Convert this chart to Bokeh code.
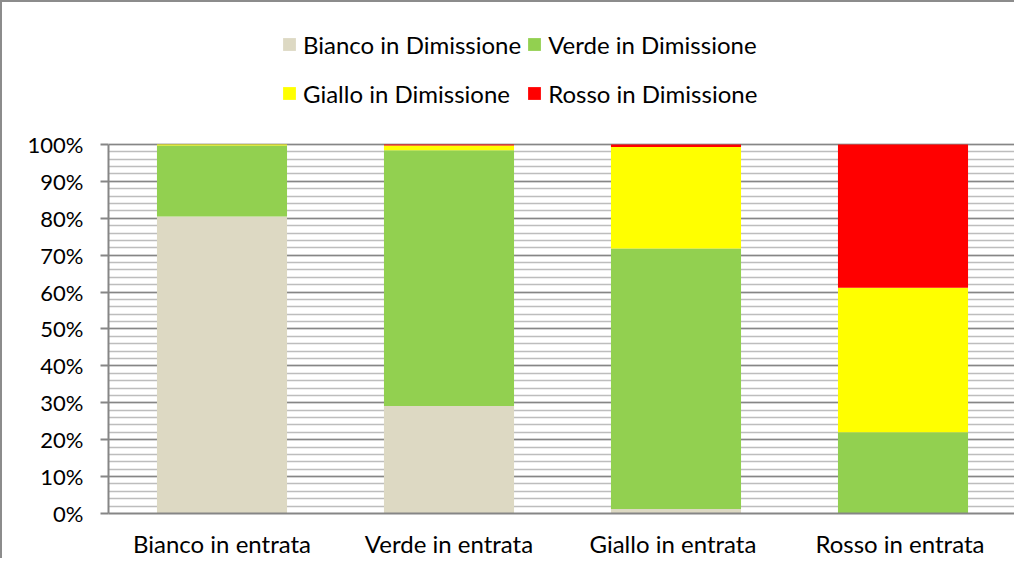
from bokeh.plotting import figure
from bokeh.models import Legend, LegendItem, NumeralTickFormatter, FixedTicker
from bokeh.embed import file_html
from bokeh.resources import INLINE

categories = ["Bianco in entrata", "Verde in entrata", "Giallo  in entrata", "Rosso  in entrata"]
series_names = ["Bianco in Dimissione", "Verde in Dimissione", "Giallo in Dimissione", "Rosso in Dimissione"]
bianco = [0.805, 0.291, 0.012, 0.000]
verde = [0.192, 0.693, 0.706, 0.220]
giallo = [0.003, 0.013, 0.275, 0.392]
rosso = [0.000, 0.003, 0.007, 0.388]
colors = ["#ddd9c3", "#92d050", "#ffff00", "#ff0000"]
y_ticks = [0.0, 0.1, 0.2, 0.3, 0.4, 0.5, 0.6, 0.7, 0.8, 0.9, 1.0]
minor_ticks = [i / 50 for i in range(51)]

FONT = "Lato"

data = dict(cat=categories, bianco=bianco, verde=verde, giallo=giallo, rosso=rosso)
keys = ["bianco", "verde", "giallo", "rosso"]

# extra headroom above 100% holds the legend inside the frame
p = figure(x_range=categories, y_range=(0, 1.363), width=1014, height=558,
           output_backend="svg", toolbar_location=None,
           min_border_left=106, min_border_right=0, min_border_top=8, min_border_bottom=47)
p.styles = {"border-left": "2px solid #8c8c8c", "border-top": "2px solid #8c8c8c"}

renderers = p.vbar_stack(keys, x="cat", width=0.573, color=colors, line_width=0, line_alpha=0, source=data)

p.outline_line_color = None
p.background_fill_color = "white"
p.border_fill_color = "white"

p.xgrid.grid_line_color = None
p.ygrid.ticker = FixedTicker(ticks=y_ticks, minor_ticks=minor_ticks)
p.ygrid.grid_line_color = "#868686"
p.ygrid.grid_line_width = 1.7
p.ygrid.minor_grid_line_color = "#bdbdbd"
p.ygrid.minor_grid_line_width = 1.6
p.ygrid.level = "underlay"

p.yaxis.ticker = FixedTicker(ticks=y_ticks)
p.yaxis.bounds = (0, 1)
p.yaxis.formatter = NumeralTickFormatter(format="0%")
p.yaxis.major_tick_out = 8
p.yaxis.major_tick_in = 0
p.yaxis.minor_tick_out = 0
p.yaxis.minor_tick_in = 0
p.yaxis.major_tick_line_color = "#868686"
p.yaxis.major_tick_line_width = 2
p.yaxis.axis_line_color = "#868686"
p.yaxis.axis_line_width = 2
p.yaxis.major_label_standoff = 17
p.yaxis.major_label_text_font = FONT
p.yaxis.major_label_text_font_size = "22px"
p.yaxis.major_label_text_color = "black"

p.xaxis.axis_line_color = "#868686"
p.xaxis.axis_line_width = 2
p.xaxis.major_tick_line_color = None
p.xaxis.minor_tick_line_color = None
p.xaxis.major_tick_out = 0
p.xaxis.major_tick_in = 0
p.xaxis.minor_tick_out = 0
p.xaxis.minor_tick_in = 0
p.xaxis.major_label_standoff = 15
p.xaxis.major_label_text_font = FONT
p.xaxis.major_label_text_font_size = "24px"
p.xaxis.major_label_text_color = "black"

legend = Legend(items=[LegendItem(label=n, renderers=[r]) for n, r in zip(series_names, renderers)],
                orientation="horizontal", ncols=2, location=(173, 398),
                glyph_width=16, glyph_height=16, label_standoff=6, spacing=5,
                label_height=44, padding=0, margin=0,
                label_text_font=FONT, label_text_font_size="24px", label_text_color="black",
                border_line_alpha=0, background_fill_alpha=0)
p.add_layout(legend, "center")

open("out.html", "w").write(file_html(p, INLINE))
